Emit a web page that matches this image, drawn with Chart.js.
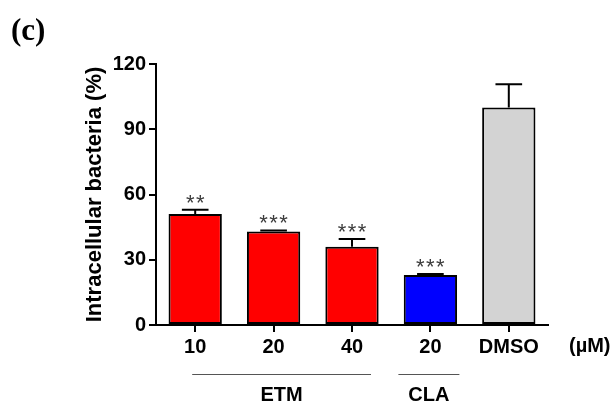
<!DOCTYPE html>
<html>
<head>
<meta charset="utf-8">
<script src="https://cdn.jsdelivr.net/npm/chart.js@4.4.1/dist/chart.umd.min.js"></script>
<style>
  html, body { margin: 0; padding: 0; background: #fff; }
  #wrap { width: 616px; height: 405px; position: relative; }
</style>
</head>
<body>
<div id="wrap"><canvas id="barChart" width="616" height="405"></canvas></div>
<script>
// Data
const doseLabels = ['10', '20', '40', '20', 'DMSO'];
const bacteriaPct = [51, 43, 36, 23, 100];
const errorSD = [2, 0.5, 3.5, 0.4, 10.7];
const significance = ['**', '***', '***', '***', ''];
const barColors = ['#ff0000', '#ff0000', '#ff0000', '#0000ff', '#d3d3d3'];
const yTicks = [0, 30, 60, 90, 120];
const groupNames = ['ETM', 'CLA'];
const groupStart = [0, 3];
const groupEnd = [2, 3];

const FONT = 'Liberation Sans, Arial, sans-serif';

// error bars, asterisks, group labels and extra text
const extrasPlugin = {
    id: 'extras',
    afterDatasetsDraw(chart) {
        const ctx = chart.ctx;
        const meta = chart.getDatasetMeta(0);
        const y = chart.scales.y;
        const x = chart.scales.x;
        const area = chart.chartArea;

        ctx.save();
        meta.data.forEach((bar, i) => {
            const top = y.getPixelForValue(bacteriaPct[i]);
            const errTop = y.getPixelForValue(bacteriaPct[i] + errorSD[i]);
            const cap = bar.width * 0.5;

            ctx.strokeStyle = '#000';
            ctx.lineWidth = 2;
            ctx.beginPath();
            ctx.moveTo(bar.x, top);
            ctx.lineTo(bar.x, errTop);
            ctx.moveTo(bar.x - cap / 2, errTop);
            ctx.lineTo(bar.x + cap / 2, errTop);
            ctx.stroke();

            // asterisks
            const stars = significance[i];
            if (stars) {
                ctx.fillStyle = '#3c3c3c';
                ctx.font = '22px ' + FONT;
                ctx.textAlign = 'center';
                ctx.textBaseline = 'middle';
                const gap = 10;
                const start = bar.x - (stars.length - 1) * gap / 2;
                for (let k = 0; k < stars.length; k++) {
                    ctx.fillText('*', start + k * gap, errTop - 6);
                }
            }
        });

        // unit label
        ctx.fillStyle = '#000';
        ctx.font = 'bold 20px ' + FONT;
        ctx.textAlign = 'left';
        ctx.textBaseline = 'middle';
        ctx.fillText('(\u00b5M)', area.right + 21, 346);

        // group lines and names
        const padL = [3, 32];
        const padR = [19, 29];
        groupNames.forEach((name, g) => {
            const x0 = x.getPixelForValue(groupStart[g]) - padL[g];
            const x1 = x.getPixelForValue(groupEnd[g]) + padR[g];
            ctx.strokeStyle = '#555';
            ctx.lineWidth = 1;
            ctx.beginPath();
            ctx.moveTo(x0, 374.5);
            ctx.lineTo(x1, 374.5);
            ctx.stroke();
            ctx.fillStyle = '#000';
            ctx.textAlign = 'center';
            ctx.fillText(name, (x0 + x1) / 2, 395);
        });

        // panel letter
        ctx.font = 'bold 31px Liberation Serif, Times New Roman, serif';
        ctx.textAlign = 'left';
        ctx.fillText('(c)', 11, 32);
        ctx.restore();
    }
};

window.onload = function() {
    const ctx = document.getElementById('barChart').getContext('2d');
    new Chart(ctx, {
        type: 'bar',
        data: {
            labels: doseLabels,
            datasets: [{
                data: bacteriaPct,
                backgroundColor: barColors,
                borderColor: '#000',
                borderWidth: 2,
                borderSkipped: false,
                barPercentage: 0.68,
                categoryPercentage: 1.0
            }]
        },
        options: {
            responsive: false,
            animation: false,
            layout: { padding: { left: 82, right: 68, top: 64, bottom: 0 } },
            plugins: {
                legend: { display: false },
                tooltip: { enabled: false }
            },
            scales: {
                y: {
                    min: 0,
                    max: 120,
                    afterBuildTicks: s => { s.ticks = yTicks.map(v => ({ value: v })); },
                    afterFit: s => {
                        s.width = 74;
                        s.paddingTop = 0;
                        s.paddingBottom = 0;
                    },
                    grid: {
                        drawOnChartArea: false,
                        drawTicks: true,
                        tickLength: 7,
                        color: '#000',
                        lineWidth: 2
                    },
                    border: { color: '#000', width: 2 },
                    ticks: {
                        color: '#000',
                        padding: 3,
                        font: { family: FONT, size: 20, weight: 'bold' }
                    },
                    title: {
                        display: true,
                        text: 'Intracellular bacteria (%)',
                        color: '#000',
                        padding: 0,
                        font: { family: FONT, size: 22, weight: 'bold' }
                    }
                },
                x: {
                    afterFit: s => {
                        s.height = 80;
                        s.paddingLeft = 0;
                        s.paddingRight = 0;
                    },
                    grid: {
                        offset: false,
                        drawOnChartArea: false,
                        drawTicks: true,
                        tickLength: 7,
                        color: '#000',
                        lineWidth: 2
                    },
                    border: { color: '#000', width: 2 },
                    ticks: {
                        color: '#000',
                        padding: 3,
                        maxRotation: 0,
                        font: { family: FONT, size: 20, weight: 'bold' }
                    }
                }
            }
        },
        plugins: [extrasPlugin]
    });
};
</script>
</body>
</html>
